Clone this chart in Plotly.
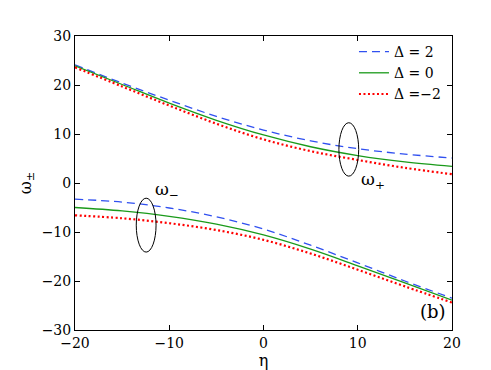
import plotly.graph_objects as go

# eta samples
eta = [-20, -15, -10, -5, 0, 5, 10, 15, 20]

# upper branch (omega_+)
wp_d2 = [24.1, 20.4, 16.9, 13.6, 10.8, 8.6, 7.0, 5.9, 5.1]
wp_d0 = [23.9, 20.1, 16.3, 12.8, 9.8, 7.4, 5.6, 4.3, 3.4]
wp_dm2 = [23.6, 19.7, 15.8, 12.1, 8.9, 6.5, 4.7, 3.1, 1.8]

# lower branch (omega_-)
wm_d2 = [-3.3, -3.9, -5.1, -6.9, -9.4, -12.7, -16.3, -20.0, -23.5]
wm_d0 = [-5.0, -5.7, -6.8, -8.4, -10.6, -13.5, -16.9, -20.4, -23.9]
wm_dm2 = [-6.6, -7.2, -8.2, -9.6, -11.6, -14.4, -17.7, -21.1, -24.4]

labels = ["\u0394 = 2", "\u0394 = 0", "\u0394 =\u22122"]
styles = [
    dict(color="#3050f0", width=1.3, dash="8px,5px"),
    dict(color="#1a9a1a", width=1.3, dash="solid"),
    dict(color="#ff0000", width=2.2, dash="2px,2.5px"),
]
FONT = "DejaVu Serif"

fig = go.Figure()
for lab, st, up, lo in zip(labels, styles, [wp_d2, wp_d0, wp_dm2], [wm_d2, wm_d0, wm_dm2]):
    fig.add_trace(go.Scatter(x=eta, y=up, mode="lines", name=lab, line=dict(shape="spline", **st),
                             legendgroup=lab))
    fig.add_trace(go.Scatter(x=eta, y=lo, mode="lines", name=lab, line=dict(shape="spline", **st),
                             legendgroup=lab, showlegend=False))

axis_common = dict(
    showgrid=False, zeroline=False, showline=True, linecolor="black", linewidth=1,
    mirror="ticks", ticks="inside", ticklen=5, tickcolor="black",
    tickfont=dict(family=FONT, size=14, color="black"),
)
fig.update_xaxes(range=[-20, 20], tickvals=[-20, -10, 0, 10, 20],
                 ticktext=["\u221220", "\u221210", "0", "10", "20"],
                 title=dict(text="\u03b7", font=dict(family=FONT, size=16, color="black"), standoff=4),
                 **axis_common)
fig.update_yaxes(range=[-30, 30], tickvals=[-30, -20, -10, 0, 10, 20, 30],
                 ticktext=["\u221230", "\u221220", "\u221210", "0", "10", "20", "30"],
                 title=dict(text="\u03c9<sub>\u00b1</sub>", font=dict(family=FONT, size=16, color="black"), standoff=6),
                 **axis_common)

# ellipses marking the branches
fig.add_shape(type="circle", x0=-13.5, x1=-11.4, y0=-14.1, y1=-3.1, line=dict(color="black", width=1))
fig.add_shape(type="circle", x0=8.0, x1=10.1, y0=1.4, y1=12.3, line=dict(color="black", width=1))

fig.add_annotation(x=-10.2, y=-1.6, text="\u03c9<sub>\u2212</sub>", showarrow=False,
                   font=dict(family=FONT, size=17, color="black"))
fig.add_annotation(x=11.6, y=0.6, text="\u03c9<sub>+</sub>", showarrow=False,
                   font=dict(family=FONT, size=17, color="black"))
fig.add_annotation(x=0.99, y=0.02, xref="paper", yref="paper", xanchor="right", yanchor="bottom",
                   text="(b)", showarrow=False, font=dict(family=FONT, size=18, color="black"))

fig.update_layout(
    width=491, height=370,
    margin=dict(l=67, r=47, t=28, b=44),
    paper_bgcolor="white", plot_bgcolor="white",
    font=dict(family=FONT, size=14, color="black"),
    showlegend=True,
    legend=dict(x=0.74, y=1.0, xanchor="left", yanchor="top", bgcolor="rgba(0,0,0,0)",
                itemwidth=30, tracegroupgap=0, font=dict(family=FONT, size=14)),
)

fig.write_html("out.html")
